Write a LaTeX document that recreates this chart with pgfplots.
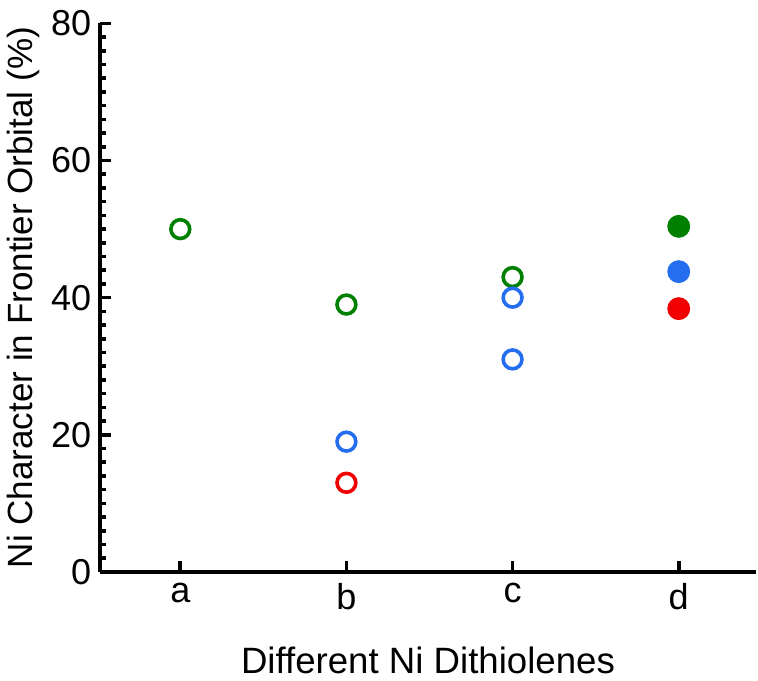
\documentclass[border=0pt]{standalone}
\usepackage{fontspec}
\setmainfont{Liberation Sans}
\usepackage{pgfplots}
\pgfplotsset{compat=1.18}
\definecolor{cgreen}{RGB}{0,128,0}
\definecolor{cblue}{RGB}{38,110,240}
\definecolor{cred}{RGB}{240,0,0}
\begin{document}
\begin{tikzpicture}
\begin{axis}[
  scale only axis, width=327.5pt, height=274pt,
  axis lines=left, axis line style={-, line width=2.2pt},
  xmin=-0.482, xmax=3.464, ymin=0, ymax=80,
  xtick={0,1,2,3}, xticklabels={a,b,c,d},
  ytick={0,20,40,60,80}, minor y tick num=9,
  tick align=inside, major tick length=5.5pt, minor tick length=3pt,
  major tick style={black, line width=1.8pt},
  minor tick style={black, line width=1.8pt},
  /pgf/number format/assume math mode=true,
  tick label style={font=\fontsize{18}{21}\selectfont},
  yticklabel style={xshift=-1pt},
  xticklabel style={yshift=-2pt},
  xlabel style={font=\fontsize{18.3}{22}\selectfont, yshift=-12pt},
  ylabel style={font=\fontsize{17.5}{21}\selectfont, yshift=-1pt},
  xlabel={Different Ni Dithiolenes},
  ylabel={Ni Character in Frontier Orbital (\%)},
  clip=false,
]
% open circles
\addplot[only marks, mark=o, mark size=4.7pt, mark options={line width=1.8pt, draw=cgreen}]
  coordinates {(0,50) (1,39) (2,43)};
\addplot[only marks, mark=o, mark size=4.7pt, mark options={line width=1.8pt, draw=cblue}]
  coordinates {(1,19) (2,40) (2,31)};
\addplot[only marks, mark=o, mark size=4.7pt, mark options={line width=1.8pt, draw=cred}]
  coordinates {(1,13)};
% filled circles
\addplot[only marks, mark=*, mark size=5.5pt, mark options={draw=cgreen, fill=cgreen, line width=0.4pt}]
  coordinates {(3,50.4)};
\addplot[only marks, mark=*, mark size=5.5pt, mark options={draw=cblue, fill=cblue, line width=0.4pt}]
  coordinates {(3,43.8)};
\addplot[only marks, mark=*, mark size=5.5pt, mark options={draw=cred, fill=cred, line width=0.4pt}]
  coordinates {(3,38.4)};
\end{axis}
\path (current bounding box.north) ++(0,2pt);
\end{tikzpicture}
\end{document}
